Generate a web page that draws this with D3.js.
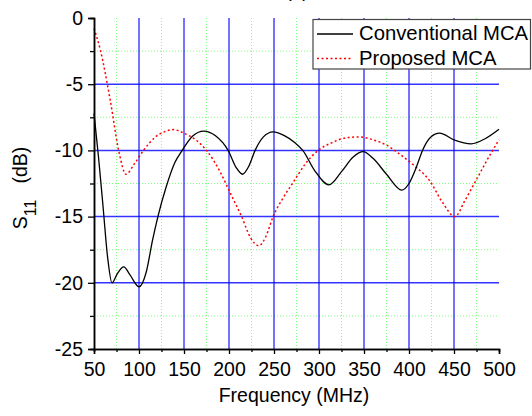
<!DOCTYPE html>
<html>
<head>
<meta charset="utf-8">
<script src="https://cdn.jsdelivr.net/npm/d3@7"></script>
<style>
  body { margin: 0; background: #fff; }
  svg { display: block; font-family: Arial, "Liberation Sans", sans-serif; }
</style>
</head>
<body>
<svg id="chart" width="532" height="416"></svg>
<script>
const width = 532;
const height = 416;
const margin = { top: 18, right: 33, bottom: 67, left: 94 };

// Conventional MCA (black solid)
const convFreq = [50, 55, 60, 65, 70, 76, 83, 90, 100, 108, 115, 121, 130, 140, 148, 160, 172, 185, 199, 208, 215, 222, 229, 238, 249, 262, 273, 282, 295, 311, 325, 338, 349, 360, 375, 392, 400, 408, 415, 424, 434, 450, 469, 485, 500];
const convS11 = [-7.2, -10.5, -14.2, -18, -20, -19.3, -18.8, -19.4, -20.3, -19.2, -16.8, -15, -12.8, -10.9, -10, -8.9, -8.55, -8.9, -10, -11.3, -11.8, -11.2, -10, -9, -8.6, -8.9, -9.4, -10, -11.5, -12.6, -11.6, -10.5, -10.1, -10.6, -11.8, -13, -12.5, -11.3, -10, -9, -8.7, -9.2, -9.5, -9.1, -8.4];

// Proposed MCA (red dotted)
const propFreq = [50, 57, 68, 78, 85.5, 95, 105, 118, 128, 138, 150, 163, 175, 190, 202, 214, 224, 233, 241, 249, 260, 271, 285, 299, 315, 330, 345, 360, 375, 390, 405, 423, 437, 451, 462, 473, 487, 500];
const propS11 = [-0.8, -2.4, -6.2, -10.2, -11.8, -11, -10, -9, -8.6, -8.43, -8.7, -9.2, -10, -11.6, -13.3, -15, -16.6, -17.2, -16.5, -15, -13.6, -12.45, -11, -10, -9.4, -9.05, -8.98, -9.2, -9.6, -10.3, -11.1, -12.3, -13.9, -15, -13.8, -12.45, -10.7, -9.2];

const xTicks = [50, 100, 150, 200, 250, 300, 350, 400, 450, 500];
const yTicks = [0, -5, -10, -15, -20, -25];
const xMinor = [75, 125, 175, 225, 275, 325, 375, 425, 475];
const yMinor = [-2.5, -7.5, -12.5, -17.5, -22.5];

const seriesNames = ["Conventional MCA", "Proposed MCA"];

const svg = d3.select("#chart");

const x = d3.scaleLinear().domain([50, 500]).range([margin.left, width - margin.right]);
const y = d3.scaleLinear().domain([-25, 0]).range([height - margin.bottom, margin.top]);

// panel title, mostly cut off at the top like the original
svg.append("text")
  .attr("x", 297)
  .attr("y", -3)
  .attr("text-anchor", "middle")
  .attr("font-size", 19)
  .text("(a)");

// minor grid (green dotted)
const grid = svg.append("g");
grid.selectAll(".vminor").data(xMinor).join("line")
  .attr("x1", d => x(d)).attr("x2", d => x(d))
  .attr("y1", y(0)).attr("y2", y(-25))
  .attr("stroke", "#7fff7f").attr("stroke-width", 1)
  .attr("stroke-dasharray", "1,2");
grid.selectAll(".hminor").data(yMinor).join("line")
  .attr("x1", x(50)).attr("x2", x(500))
  .attr("y1", d => y(d)).attr("y2", d => y(d))
  .attr("stroke", "#7fff7f").attr("stroke-width", 1)
  .attr("stroke-dasharray", "1,2");

// major grid (blue)
grid.selectAll(".vmajor").data(xTicks.slice(1, -1)).join("line")
  .attr("x1", d => x(d)).attr("x2", d => x(d))
  .attr("y1", y(0)).attr("y2", y(-25))
  .attr("stroke", "#0000ff").attr("stroke-opacity", 0.55).attr("stroke-width", 2);
grid.selectAll(".hmajor").data(yTicks.slice(1, -1)).join("line")
  .attr("x1", x(50)).attr("x2", x(500))
  .attr("y1", d => y(d)).attr("y2", d => y(d))
  .attr("stroke", "#0000ff").attr("stroke-opacity", 0.8).attr("stroke-width", 1.5);

// series
const line = d3.line()
  .x(d => x(d[0]))
  .y(d => y(d[1]))
  .curve(d3.curveMonotoneX);

svg.append("path")
  .datum(propFreq.map((f, i) => [f, propS11[i]]))
  .attr("fill", "none")
  .attr("stroke", "#ff0000")
  .attr("stroke-width", 1.5)
  .attr("stroke-dasharray", "2,2.5")
  .attr("d", line);

svg.append("path")
  .datum(convFreq.map((f, i) => [f, convS11[i]]))
  .attr("fill", "none")
  .attr("stroke", "#000")
  .attr("stroke-width", 1.3)
  .attr("d", line);

// axes (plain hyphen for negatives, like the original)
const plain = d => String(d);
const xAxis = svg.append("g")
  .attr("transform", `translate(0,${y(-25)})`)
  .call(d3.axisBottom(x).tickValues(xTicks).tickFormat(plain).tickSize(5).tickPadding(8));
const xMinorAxis = svg.append("g")
  .attr("transform", `translate(0,${y(-25)})`)
  .call(d3.axisBottom(x).tickValues(xMinor).tickSize(3).tickFormat(""));
const yAxis = svg.append("g")
  .attr("transform", `translate(${x(50)},0)`)
  .call(d3.axisLeft(y).tickValues(yTicks).tickFormat(plain).tickSize(6).tickPadding(5));
const yMinorAxis = svg.append("g")
  .attr("transform", `translate(${x(50)},0)`)
  .call(d3.axisLeft(y).tickValues(yMinor).tickSize(4).tickFormat(""));

[xAxis, xMinorAxis, yAxis, yMinorAxis].forEach(g => {
  g.select(".domain").attr("stroke", "#000").attr("stroke-width", 1.5);
  g.selectAll(".tick line").attr("stroke", "#000").attr("stroke-width", 1.3);
  g.selectAll(".tick text").attr("fill", "#000").attr("font-size", 19.5)
    .attr("font-family", "Arial, 'Liberation Sans', sans-serif");
});

// axis titles
svg.append("text")
  .attr("x", 294)
  .attr("y", 402)
  .attr("text-anchor", "middle")
  .attr("font-size", 19.5)
  .text("Frequency (MHz)");

const yTitle = svg.append("text")
  .attr("transform", "translate(27,188) rotate(-90)")
  .attr("text-anchor", "middle")
  .attr("font-size", 19.5);
yTitle.append("tspan").text("S");
yTitle.append("tspan").attr("baseline-shift", "sub").attr("font-size", 16).text("11");
yTitle.append("tspan").attr("dx", 16).text("(dB)");

// legend
const legend = svg.append("g");
legend.append("rect")
  .attr("x", 313).attr("y", 19.5)
  .attr("width", 217.5).attr("height", 49.5)
  .attr("fill", "#fff").attr("stroke", "#444").attr("stroke-width", 1.2);

const legendStyles = [
  { color: "#000", dash: null },
  { color: "#ff0000", dash: "2,2.5" }
];
seriesNames.forEach((name, i) => {
  const ly = 34 + i * 24.5;
  legend.append("line")
    .attr("x1", 317).attr("x2", 353)
    .attr("y1", ly).attr("y2", ly)
    .attr("stroke", legendStyles[i].color)
    .attr("stroke-width", 1.3)
    .attr("stroke-dasharray", legendStyles[i].dash);
  legend.append("text")
    .attr("x", 359).attr("y", ly + 6)
    .attr("font-size", 20.3)
    .text(name);
});
</script>
</body>
</html>
